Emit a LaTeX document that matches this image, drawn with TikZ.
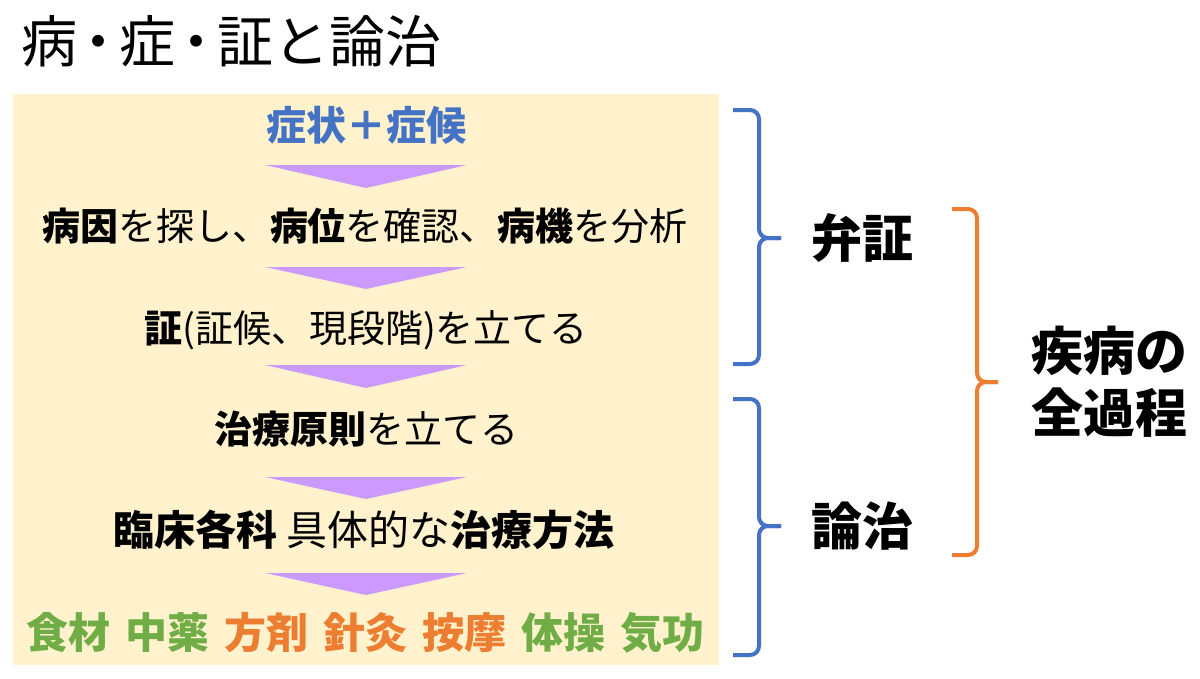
\documentclass[tikz,border=0pt]{standalone}
\usepackage{fontspec}
\setmainfont{Noto Sans CJK JP}
\usepackage{xcolor}
\usetikzlibrary{positioning}

\definecolor{panelyellow}{HTML}{FFF2CC}
\definecolor{arrowpurple}{HTML}{CC99FF}
\definecolor{braceblue}{HTML}{4472C4}
\definecolor{braceorange}{HTML}{ED7D31}
\definecolor{herbgreen}{HTML}{70AD47}

\begin{document}
\begin{tikzpicture}[
    x=1pt, y=-1pt,
    stage/.style={inner sep=0pt, anchor=center, font=\fontsize{38}{44}\selectfont},
    downarrow/.style={fill=arrowpurple, draw=none},
    bluebrace/.style={draw=braceblue, line width=4pt, rounded corners=9pt},
    orangebrace/.style={draw=braceorange, line width=4pt, rounded corners=9pt},
    sidelabel/.style={inner sep=0pt, align=left, font=\bfseries\fontsize{51}{62}\selectfont}
]
\useasboundingbox (0,0) rectangle (1200,678);

% Title
\node[anchor=west, inner sep=0pt, font=\fontsize{56}{62}\selectfont] (title) at (21,41)
  {病\hspace{-7pt}・\hspace{-7pt}症\hspace{-7pt}・\hspace{-7pt}証と論治};

% Panel
\fill[panelyellow] (13,94) rectangle (719,665);

% Steps
\node[stage, text=braceblue, font=\bfseries\fontsize{40}{48}\selectfont] (symptom) at (366,125) {症状＋症候};
\node[stage] (cause)     at (365,226) {\textbf{病因}を探し、\textbf{病位}を確認、\textbf{病機}を分析};
\node[stage] (pattern)   at (366,330) {\textbf{証}(証候、現段階)を立てる};
\node[stage] (principle) at (366,429) {\textbf{治療原則}を立てる};
\node[stage, font=\fontsize{41}{48}\selectfont] (method) at (364,530) {\textbf{臨床各科} 具体的な\textbf{治療方法}};
\node[stage, font=\bfseries\fontsize{42}{48}\selectfont] (therapy) at (366,633) {%
  \textcolor{herbgreen}{食材}\hspace{15pt}\textcolor{herbgreen}{中薬}\hspace{15pt}%
  \textcolor{braceorange}{方剤}\hspace{15pt}\textcolor{braceorange}{針灸}\hspace{15pt}%
  \textcolor{braceorange}{按摩}\hspace{15pt}\textcolor{herbgreen}{体操}\hspace{15pt}%
  \textcolor{herbgreen}{気功}};

% Arrows between steps
\fill[downarrow] (265,165) -- (467,165) -- (366,188) -- cycle;
\fill[downarrow] (265,267) -- (467,267) -- (366,289) -- cycle;
\fill[downarrow] (265,365) -- (467,365) -- (366,388) -- cycle;
\fill[downarrow] (265,477) -- (467,477) -- (366,499) -- cycle;
\fill[downarrow] (265,573) -- (467,573) -- (366,595) -- cycle;

% Braces
\coordinate (bianTip)  at (781,238);
\coordinate (lunTip)   at (781,526);
\coordinate (wholeTip) at (998,382);

\draw[bluebrace] (733,110) -- (759,110) -- (759,238) -- (bianTip);
\draw[bluebrace] (bianTip) -- (759,238) -- (759,364) -- (733,364);
\draw[bluebrace] (733,399) -- (759,399) -- (759,526) -- (lunTip);
\draw[bluebrace] (lunTip) -- (759,526) -- (759,655) -- (733,655);
\draw[orangebrace] (952,209) -- (977,209) -- (977,382) -- (wholeTip);
\draw[orangebrace] (wholeTip) -- (977,382) -- (977,555) -- (952,555);

% Labels
\node[sidelabel, right=30pt of bianTip] (bianzheng) {弁証};
\node[sidelabel, right=30pt of lunTip]  (lunzhi)    {論治};
\node[sidelabel, right=33pt of wholeTip, font=\bfseries\fontsize{52}{62}\selectfont] (whole) {疾病の\\全過程};

\end{tikzpicture}
\end{document}
